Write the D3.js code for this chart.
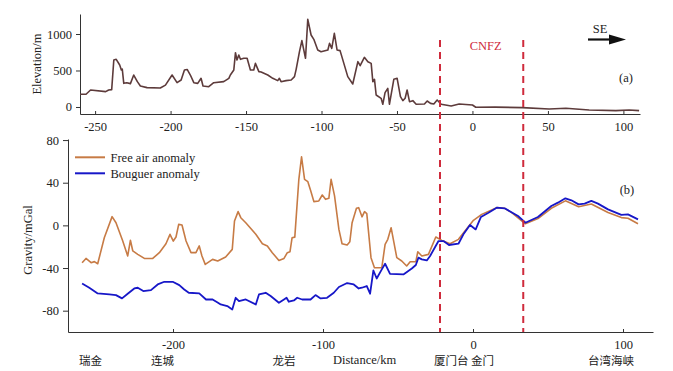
<!DOCTYPE html>
<html>
<head>
<meta charset="utf-8">
<script src="https://cdn.jsdelivr.net/npm/d3@7"></script>
<style>
  html, body { margin: 0; padding: 0; background: #fff; }
  svg { display: block; }
  text { font-family: "Liberation Serif", "Times New Roman", serif; fill: #222; }
  .cjk { font-family: "Noto Sans CJK SC", sans-serif; }
</style>
</head>
<body>
<svg id="chart" width="673" height="371"></svg>
<script>
// ---------------- data ----------------
const elevDist = [-260,-256,-253,-243,-241,-239,-237.6,-236,-233.7,-232.6,-232,-231,-229,-226.6,-224.4,-222,-220,-215.6,-206.8,-203.4,-199,-195.7,-193,-190.8,-189,-186.9,-184.6,-182,-179.8,-178.5,-174.7,-171.4,-164.8,-161.4,-160.4,-158.1,-157,-156,-154.8,-153.7,-151.5,-149.3,-147.1,-144.9,-143.8,-141.5,-140,-135.6,-132.3,-129,-127.9,-126.8,-123.5,-120.1,-117.9,-116.8,-114.6,-113,-110.6,-109.1,-106.9,-105.1,-102.5,-100.3,-95.8,-94.7,-93.2,-91.5,-89.7,-87.7,-82.6,-79.3,-75.9,-74.4,-71.6,-69.3,-67.1,-66,-64.9,-63.8,-60.5,-59.4,-57.9,-56.1,-55,-52.1,-49.9,-47.7,-46.1,-44.6,-43.3,-41.7,-39.5,-37.3,-31.8,-30,-27.8,-25.6,-23.4,-20.7,-14.1,-8.8,0,2.2,15,33,50.8,61.9,77.3,95,103.8,110.4];
const elevValue = [175,175,233,210,233,238,644,653,575,507,520,324,333,320,438,347,288,265,260,300,438,333,370,507,514,438,333,324,393,288,278,333,347,393,438,507,744,644,712,653,667,667,507,507,598,484,480,438,393,361,393,347,361,370,416,516,758,909,667,1201,986,927,781,758,781,872,804,1009,781,772,416,315,621,566,680,621,598,347,379,164,119,37,196,256,37,379,393,141,87,119,233,73,87,37,41,82,50,41,96,37,14,41,27,-4,-2,-9,-27,-18,-41,-50,-41,-50];

const freeDist = [-260.6,-258,-254.6,-252.4,-250.2,-245.8,-240.6,-238,-233.5,-230.2,-228.4,-226.8,-223.5,-219.1,-213.5,-209.1,-204.7,-202,-199.8,-198,-196.2,-194,-191.3,-188,-184.7,-182.5,-180.7,-178.5,-173.6,-170.2,-164.9,-160.5,-159,-156.6,-154.8,-151.5,-144.8,-140.4,-137.1,-133.8,-129.4,-126,-123.8,-122,-120.6,-118.8,-116.1,-114.3,-112.3,-110.1,-108.3,-106.1,-102.8,-100.5,-98.3,-96.1,-94.6,-92.3,-89.4,-87.3,-83.9,-82.1,-80.6,-77.7,-76.2,-74,-72.3,-70.8,-68,-65.7,-60.8,-58.6,-56.8,-54.6,-50.8,-47.5,-44.2,-41.9,-38.1,-36.8,-34.1,-29.7,-24.8,-20.8,-15.3,-9.7,0.3,5.8,15.8,21.1,25.8,34.9,43.3,52.2,61.6,70.4,78.9,90,98.9,103.3,110];
const freeAir = [-35,-31,-35,-34,-36,-11.6,8.2,2.5,-14.7,-28.7,-14,-24,-27.2,-31,-31,-25.6,-17.2,-8.4,-14.7,-10.9,0.9,0.3,-14.7,-25.6,-25.6,-19.3,-28.7,-36.6,-31.9,-33.4,-29.7,-22.5,4.1,12.9,7.2,2.5,-8.4,-17.2,-19.3,-25.6,-32.9,-31,-25.6,-24.7,-11.6,-11,43.2,64.2,43.2,41,32.9,22.3,22.9,28.5,24.4,25.4,43.2,27.6,-3.8,-17.2,-18.4,-15.3,2.5,16,16.6,8,12.9,11,-30.3,-39.7,-39.7,-17.8,-13.1,-2.2,-30.3,-33.4,-38.1,-34.1,-34.1,-24.7,-28.7,-27.2,-10.9,-14.1,-17.2,-13.1,4.7,10.3,16.6,16,11.9,1.5,6.4,16,23,17.5,20,12,7.3,6.7,1.5];

const bougDist = [-260.6,-255.8,-250.2,-242.4,-238,-234,-230.2,-225.8,-223.5,-219.8,-214.7,-210.2,-205.8,-200.2,-195.8,-192.5,-189.5,-182.5,-178,-173.6,-170,-168.2,-163.8,-160.5,-158.2,-156,-151.5,-144.8,-142.7,-138.2,-134.9,-129.4,-126,-124.3,-122.8,-119.4,-117.2,-113.9,-108.3,-105,-101.6,-97.3,-92.8,-89.4,-83.9,-79.5,-76.2,-74.1,-70.8,-68.6,-66.4,-64.2,-60.8,-58.6,-55.3,-46.4,-40.8,-38.1,-36.4,-34.1,-30.8,-28.6,-23,-19.7,-16,-9.7,-6.4,-2,1.8,5.3,10.3,15.8,21.1,30,34.9,43.3,52.2,56.6,61.6,65.6,70.4,74.4,78.9,83.3,90,98.9,103.3,110];
const bouguer = [-54.5,-58.5,-63.8,-64.8,-65.4,-68.5,-64.1,-59.2,-58.5,-61.6,-60.7,-55.4,-52.9,-52.9,-56,-60.1,-63.2,-63.8,-69.5,-69.5,-72.6,-74.2,-75.7,-78.9,-67.9,-71,-69.5,-74.2,-64.8,-63.2,-66.3,-72.6,-69.5,-67.9,-71.6,-70.4,-67.9,-69.5,-69.5,-65.4,-68.5,-67.9,-63.2,-57.8,-54.1,-55.4,-59.2,-58.5,-56.9,-64.1,-42.3,-49.8,-41.3,-36,-45.4,-46,-40.4,-37.2,-30.3,-31.9,-32.9,-28.7,-14.7,-14.7,-18.4,-17.2,-8.4,0.4,-3.8,7.9,11.9,16.6,16,8.8,2.5,7.9,18.2,21.3,25.4,23.5,19.7,20.4,22.9,20.4,15,9.8,10.3,5.6];

const topXTicks = [-250,-200,-150,-100,-50,0,50,100];
const topYTicks = [0,500,1000];
const botXTicks = [-200,-100,0,100];
const botYTicks = [-80,-40,0,40,80];
const faultKm = [-22, 33.5];
const places = [
  {name: "瑞金", km: -255},
  {name: "连城", km: -207},
  {name: "龙岩", km: -126},
  {name: "厦门台 金门", km: -6},
  {name: "台湾海峡", km: 92}
];
const legendItems = [
  {label: "Free air anomaly", color: "#c77b45"},
  {label: "Bouguer anomaly", color: "#1717c8"}
];

// ---------------- drawing ----------------
const svg = d3.select("#chart");
const axisColor = "#333";

// top panel scales
const xTop = d3.scaleLinear().domain([-260, 111]).range([80, 640]);
const yTop = d3.scaleLinear().domain([-96, 1274]).range([114, 14]);
// bottom panel scales
const xBot = d3.scaleLinear().domain([-270, 120]).range([68, 653]);
const yBot = d3.scaleLinear().domain([-100, 81]).range([332, 139]);

function styleAxis(g) {
  g.selectAll("path.domain").attr("stroke", axisColor).attr("stroke-width", 1);
  g.selectAll(".tick line").attr("stroke", axisColor);
  g.selectAll(".tick text")
    .attr("font-family", "Liberation Serif, serif")
    .attr("font-size", 12.5)
    .attr("fill", "#222");
}
const fmt = d => String(d);

// top axes
svg.append("g").attr("transform", "translate(0,114)")
  .call(d3.axisBottom(xTop).tickValues(topXTicks).tickFormat(fmt).tickSizeInner(-3).tickSizeOuter(0).tickPadding(8))
  .call(styleAxis);
svg.append("g").attr("transform", "translate(80,0)")
  .call(d3.axisLeft(yTop).tickValues(topYTicks).tickFormat(fmt).tickSizeInner(4).tickSizeOuter(0).tickPadding(4))
  .call(styleAxis);

// bottom axes
svg.append("g").attr("transform", "translate(0,332)")
  .call(d3.axisBottom(xBot).tickValues(botXTicks).tickFormat(fmt).tickSizeInner(-3).tickSizeOuter(0).tickPadding(8))
  .call(styleAxis);
svg.append("g").attr("transform", "translate(68,0)")
  .call(d3.axisLeft(yBot).tickValues(botYTicks).tickFormat(fmt).tickSizeInner(5).tickSizeOuter(0).tickPadding(4))
  .call(styleAxis);

// elevation line
const elevData = elevDist.map((d, i) => [d, elevValue[i]]);
svg.append("path")
  .datum(elevData)
  .attr("fill", "none")
  .attr("stroke", "#5d3b3b")
  .attr("stroke-width", 1.6)
  .attr("stroke-linejoin", "round")
  .attr("d", d3.line().x(d => xTop(d[0])).y(d => yTop(d[1])));

// gravity lines
const freeData = freeDist.map((d, i) => [d, freeAir[i]]);
const bougData = bougDist.map((d, i) => [d, bouguer[i]]);
const lineBot = d3.line().x(d => xBot(d[0])).y(d => yBot(d[1]));
svg.append("path").datum(freeData)
  .attr("fill", "none").attr("stroke", legendItems[0].color).attr("stroke-width", 1.6)
  .attr("stroke-linejoin", "round").attr("d", lineBot);
svg.append("path").datum(bougData)
  .attr("fill", "none").attr("stroke", legendItems[1].color).attr("stroke-width", 1.8)
  .attr("stroke-linejoin", "round").attr("d", lineBot);

// fault dashed lines
faultKm.forEach(k => {
  svg.append("line")
    .attr("x1", xBot(k)).attr("x2", xBot(k))
    .attr("y1", 40).attr("y2", 332)
    .attr("stroke", "#cf2b3c").attr("stroke-width", 2)
    .attr("stroke-dasharray", "7,5");
});
svg.append("text")
  .attr("x", (xBot(faultKm[0]) + xBot(faultKm[1])) / 2 + 4).attr("y", 49.5)
  .attr("text-anchor", "middle").attr("font-size", 12.5)
  .style("fill", "#cf2b3c").text("CNFZ");

// SE arrow
svg.append("text").attr("x", 600).attr("y", 33).attr("text-anchor", "middle")
  .attr("font-size", 12.5).text("SE");
svg.append("line").attr("x1", 588).attr("x2", 612).attr("y1", 39.5).attr("y2", 39.5)
  .attr("stroke", "#111").attr("stroke-width", 2.2);
svg.append("path").attr("d", "M609,34.5 L626,39.5 L609,44.5 Z").attr("fill", "#111");

// panel labels
svg.append("text").attr("x", 626).attr("y", 82).attr("text-anchor", "middle")
  .attr("font-size", 12.5).text("(a)");
svg.append("text").attr("x", 627).attr("y", 194).attr("text-anchor", "middle")
  .attr("font-size", 12.5).text("(b)");

// axis titles
svg.append("text").attr("transform", "translate(41,64) rotate(-90)")
  .attr("text-anchor", "middle").attr("font-size", 12.5).text("Elevation/m");
svg.append("text").attr("transform", "translate(32,240) rotate(-90)")
  .attr("text-anchor", "middle").attr("font-size", 12.5).text("Gravity/mGal");
svg.append("text").attr("x", 333).attr("y", 364)
  .attr("font-size", 12.5).text("Distance/km");

// place names
svg.selectAll("text.place").data(places).enter().append("text")
  .attr("class", "place cjk")
  .attr("x", d => xBot(d.km)).attr("y", 365)
  .attr("text-anchor", "middle").attr("font-size", 11.5)
  .text(d => d.name);

// legend
const lg = svg.append("g");
legendItems.forEach((it, i) => {
  const y = 157.3 + i * 16;
  lg.append("line").attr("x1", 75).attr("x2", 105).attr("y1", y).attr("y2", y)
    .attr("stroke", it.color).attr("stroke-width", 2);
  lg.append("text").attr("x", 110.5).attr("y", y + 4.3)
    .attr("font-size", 12.5).text(it.label);
});
</script>
</body>
</html>
